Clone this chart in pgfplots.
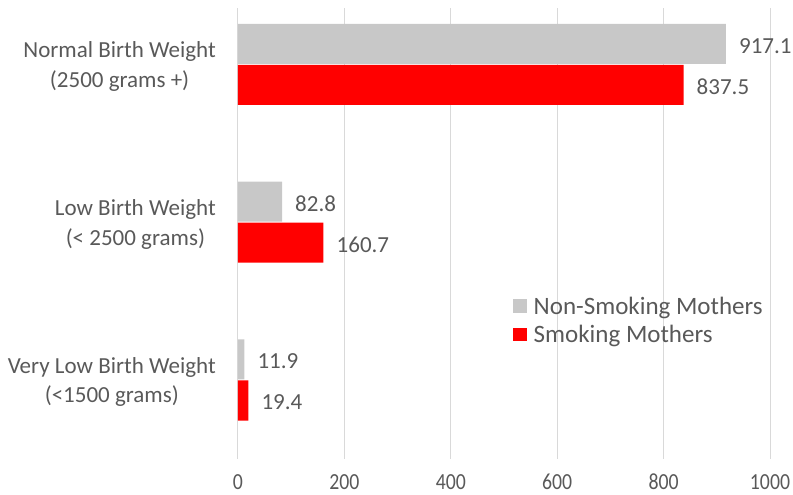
\documentclass[border=0pt]{standalone}
\usepackage{pgfplots}
\pgfplotsset{compat=1.18}
\usepackage{fontspec}
\setmainfont{Carlito}
\newfontfamily\numfont{Carlito}[FakeStretch=0.86]
\definecolor{barGray}{RGB}{200,200,200}
\definecolor{barRed}{RGB}{255,0,0}
\definecolor{txtGray}{RGB}{89,89,89}
\definecolor{gridGray}{RGB}{217,217,217}
\begin{document}
\begin{tikzpicture}[font=\fontsize{23}{29}\selectfont]
\begin{axis}[
  scale only axis, width=532pt, height=451pt,
  xmin=0, xmax=1000, ymin=-0.5008, ymax=2.358,
  axis line style={draw=none},
  xbar,
  xtick={0,200,400,600,800,1000},
  ytick={0,1,2},
  yticklabels={{Very Low Birth Weight\\(<1500 grams)},{Low Birth Weight\\(< 2500 grams)},{Normal Birth Weight\\(2500 grams +)}},
  xmajorgrids, major grid style={gridGray, line width=1pt},
  major tick length=0pt,
  /pgf/number format/assume math mode=true,
  /pgf/number format/1000 sep={},
  ticklabel style={text=txtGray, inner sep=0pt},
  yticklabel style={align=center, anchor=east, xshift=-22pt, yshift=-2pt, font=\fontsize{23}{30}\selectfont},
  xticklabel style={anchor=north, yshift=-15pt, font=\numfont\fontsize{23}{29}\selectfont},
  bar width=0.2536,
  point meta=x,
  nodes near coords,
  nodes near coords style={text=txtGray, anchor=west, inner sep=0pt, xshift=13pt, yshift=-2pt,
    font=\fontsize{23}{29}\selectfont,
    /pgf/number format/fixed, /pgf/number format/precision=1, /pgf/number format/fixed zerofill},
  legend image code/.code={\fill[#1] (0pt,-6.75pt) rectangle (13.5pt,6.75pt);},
  legend style={draw=none, fill=none, at={(axis description cs:0.517,0.357)}, anchor=north west,
    inner sep=0pt, row sep=12.5pt, column sep=7pt, text=txtGray,
    font=\fontsize{25}{30}\selectfont,
    nodes={inner sep=0pt, text height=16pt, text depth=0pt}},
  legend cell align=left,
]
\addplot[bar shift=0.13, fill=barGray, draw=none] coordinates {(917.1,2) (82.8,1) (11.9,0)};
\addplot[bar shift=-0.13, fill=barRed, draw=none] coordinates {(837.5,2) (160.7,1) (19.4,0)};
\legend{Non-Smoking Mothers, Smoking Mothers}
\end{axis}
\pgfresetboundingbox
\useasboundingbox ([shift={(-238pt,459pt)}]current axis.south west) rectangle ([shift={(555pt,-36pt)}]current axis.south west);
\end{tikzpicture}
\end{document}
